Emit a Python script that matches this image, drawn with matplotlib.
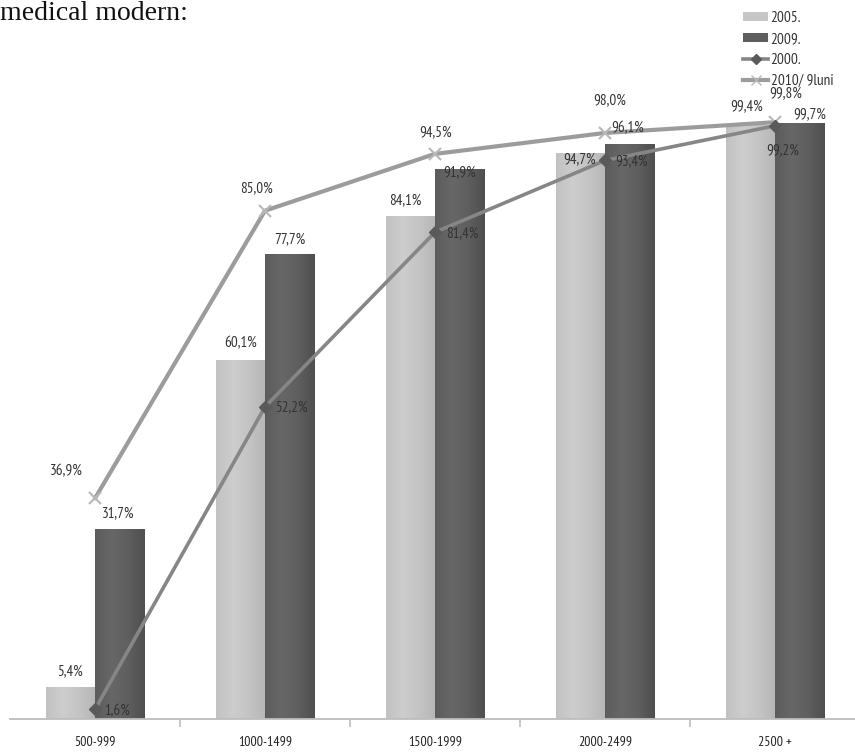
import matplotlib
matplotlib.use("Agg")
import matplotlib.pyplot as plt
import numpy as np
from matplotlib import font_manager as fm
from matplotlib.lines import Line2D
from matplotlib.patches import Patch
from matplotlib.colors import LinearSegmentedColormap

# ---- data ----
categories = ["500-999", "1000-1499", "1500-1999", "2000-2499", "2500 +"]
share_2005 = [5.4, 60.1, 84.1, 94.7, 99.4]
share_2009 = [31.7, 77.7, 91.9, 96.1, 99.7]
share_2000 = [1.6, 52.2, 81.4, 93.4, 99.2]
share_2010 = [36.9, 85.0, 94.5, 98.0, 99.8]
series_names = ["2005.", "2009.", "2000.", "2010/ 9luni"]
heading = "medical modern:"

# ---- label placement (pixel offsets from the bar top / line marker) ----
offs_2005 = [(0, 16), (0, 16), (-5, 16), (-1, -6), (-4, 18)]
offs_2009 = [(-1, 16), (0, 15), (0, -3), (-2, 16), (10, 9)]
offs_2000 = [(22, -2), (26, 0), (27, -1), (27, -1), (8, -24)]
offs_2010 = [(-29, 27), (-9, 23), (1, 22), (5, 33), (11, 29)]


def narrow_font():
    """Pick an installed condensed sans-serif face, if there is one."""
    prefs = ["sansnarrow", "robotocondensed", "opensanscondensed",
             "dejavusanscondensed", "notosanscondensed", "condensed", "narrow"]
    cands = []
    for f in fm.fontManager.ttflist:
        key = f.fname.replace("-", "").replace("_", "").replace(" ", "").lower()
        if "bold" in key or "italic" in key or "oblique" in key or "light" in key:
            continue
        if "mono" in key or "serif" in key.replace("sansserif", ""):
            continue
        for rank, p in enumerate(prefs):
            if p in key:
                cands.append((rank, f.fname))
                break
    if cands:
        cands.sort()
        return fm.FontProperties(fname=cands[0][1]), True
    return fm.FontProperties(family="DejaVu Sans"), False


NARROW_FP, HAVE_NARROW = narrow_font()
LBL_SIZE = 10.8 if HAVE_NARROW else 8.5
TICK_SIZE = 10 if HAVE_NARROW else 8
TXT = "#333333"

W, H = 855, 752
fig = plt.figure(figsize=(W / 100, H / 100), dpi=100)
fig.patch.set_facecolor("white")

ax_bottom_px = 719
px_per_unit = 5.98
ymax = 110
ax = fig.add_axes([10 / W, (H - ax_bottom_px) / H, 850 / W, ymax * px_per_unit / H])
ax.set_facecolor("none")

x = np.arange(len(categories))
bw = 0.29

light_cmap = LinearSegmentedColormap.from_list("lt", ["#c2c2c2", "#cdcdcd", "#c4c4c4", "#b6b6b6"])
dark_cmap = LinearSegmentedColormap.from_list("dk", ["#5c5c5c", "#676767", "#5f5f5f", "#4f4f4f"])
grad = np.linspace(0, 1, 64).reshape(1, -1)


def shaded_bars(xpos, vals, cmap):
    bars = ax.bar(xpos, vals, bw, color="none", edgecolor="none", zorder=2)
    for b in bars:
        x0, y0 = b.get_x(), b.get_y()
        im = ax.imshow(grad, cmap=cmap, aspect="auto", zorder=2,
                       extent=(x0, x0 + b.get_width(), y0, y0 + b.get_height()))
        im.set_clip_path(b)
    return bars


shaded_bars(x - bw / 2, share_2005, light_cmap)
shaded_bars(x + bw / 2, share_2009, dark_cmap)
ax.set_xlim(-0.5, 4.5)
ax.set_ylim(0, ymax)

ax.plot(x, share_2010, color="#9c9c9c", lw=3, marker="x", ms=9, mew=1.5,
        mec="#b8b8b8", zorder=4, solid_capstyle="round")
ax.plot(x, share_2000, color="#868686", lw=2.6, marker="D", ms=6,
        mfc="#5a5a5a", mec="#5a5a5a", zorder=5, solid_capstyle="round")


def pct(v):
    return f"{v:.1f}".replace(".", ",") + "%"


def put_labels(xs, vals, offs):
    for xi, v, (dx, dy) in zip(xs, vals, offs):
        ax.annotate(pct(v), (xi, v), xytext=(dx, dy), textcoords="offset pixels",
                    ha="center", va="center", fontproperties=NARROW_FP,
                    fontsize=LBL_SIZE, color=TXT, zorder=6)


put_labels(x - bw / 2, share_2005, offs_2005)
put_labels(x + bw / 2, share_2009, offs_2009)
put_labels(x, share_2000, offs_2000)
put_labels(x, share_2010, offs_2010)

# axes styling
for s in ["top", "right", "left"]:
    ax.spines[s].set_visible(False)
ax.spines["bottom"].set_color("#bdbdbd")
ax.spines["bottom"].set_linewidth(1.3)
ax.set_yticks([])
ax.set_xticks(x)
ax.set_xticklabels(categories, color="#222222")
for t in ax.get_xticklabels():
    t.set_fontproperties(NARROW_FP)
    t.set_fontsize(TICK_SIZE)
ax.tick_params(axis="x", which="major", length=0, pad=12)
ax.set_xticks(x[:-1] + 0.5, minor=True)
ax.tick_params(axis="x", which="minor", length=6, width=1.2, color="#bdbdbd", direction="out")

# legend
handles = [
    Patch(facecolor="#c6c6c6", edgecolor="none"),
    Patch(facecolor="#5e5e5e", edgecolor="none"),
    Line2D([], [], color="#868686", lw=2.6, marker="D", ms=5, mfc="#5a5a5a", mec="#5a5a5a"),
    Line2D([], [], color="#9c9c9c", lw=3, marker="x", ms=7, mec="#b8b8b8"),
]
leg_fp = NARROW_FP.copy()
leg_fp.set_size(11)
fig.legend(handles, series_names, loc="upper left",
           bbox_to_anchor=(743 / W, 1 - 11 / H), frameon=False,
           prop=leg_fp, handlelength=1.65, handleheight=0.55,
           handletextpad=0.15, labelspacing=0.45,
           borderpad=0, borderaxespad=0, labelcolor=TXT)

fig.text(0, 1 - 20 / H, heading, family=["Liberation Serif", "DejaVu Serif"],
         fontsize=20, va="baseline", ha="left", color="#111111")

fig.savefig("out.png", dpi=100)
